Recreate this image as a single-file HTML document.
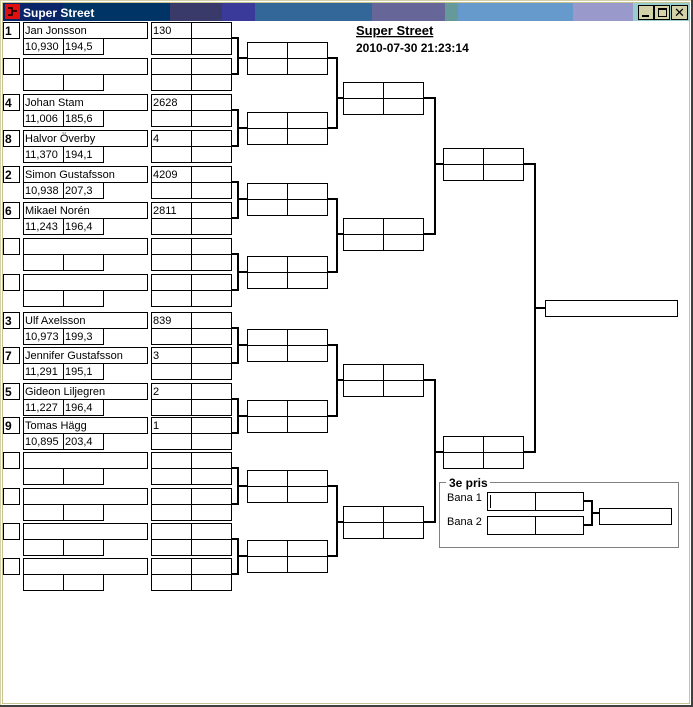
<!DOCTYPE html>
<html><head><meta charset="utf-8"><style>
html,body{margin:0;padding:0;width:693px;height:707px;overflow:hidden;background:#fff}
svg{display:block}
text{font-family:"Liberation Sans","DejaVu Sans",sans-serif;font-size:11px;fill:#000}
.b{font-weight:bold;font-size:12px}
</style></head><body>
<svg id="s" width="693" height="707" viewBox="0 0 693 707" xmlns="http://www.w3.org/2000/svg">
<rect x="0" y="0" width="693" height="707" fill="#fff"/>
<rect x="0.5" y="0.5" width="691" height="705" fill="none" stroke="#d4d0a8"/>
<rect x="2.5" y="2.5" width="687" height="701" fill="none" stroke="#c8c490"/>
<line x1="0" y1="706" x2="693" y2="706" stroke="#404040" stroke-width="2"/>
<line x1="692" y1="0" x2="692" y2="707" stroke="#404040" stroke-width="2"/>
<rect x="3" y="3" width="167" height="18" fill="#003366"/>
<rect x="3" y="3" width="60" height="18" fill="#0a246a"/>
<rect x="170" y="3" width="52" height="18" fill="#3a3a6a"/>
<rect x="222" y="3" width="33" height="18" fill="#3a3a9a"/>
<rect x="255" y="3" width="117" height="18" fill="#336699"/>
<rect x="372" y="3" width="73" height="18" fill="#666699"/>
<rect x="445" y="3" width="13" height="18" fill="#669999"/>
<rect x="458" y="3" width="115" height="18" fill="#6699cc"/>
<rect x="573" y="3" width="60" height="18" fill="#9999cc"/>
<rect x="633" y="3" width="57" height="18" fill="#99cccc"/>
<rect x="5" y="4" width="15" height="15" fill="#e01010"/>
<path d="M8 8h4v7h-4M12 11h5" stroke="#000" fill="none" stroke-width="1.5"/>
<text x="23" y="17" class="b" style="fill:#fff">Super Street</text>
<g stroke="#000" fill="#d4d0a8">
<rect x="638.5" y="5.5" width="15" height="14"/>
<rect x="654.5" y="5.5" width="15" height="14"/>
<rect x="671.5" y="5.5" width="16" height="14"/>
</g>
<rect x="642" y="15" width="7" height="2" fill="#000"/>
<rect x="658.5" y="8.5" width="8" height="8" fill="none" stroke="#000"/>
<rect x="658" y="8" width="9" height="2" fill="#000"/>
<text x="674" y="17" style="font-weight:bold;font-size:13px">✕</text>
<text x="356" y="35" style="font-weight:bold;font-size:13px;text-decoration:underline">Super Street</text>
<text x="356" y="52" class="b">2010-07-30 21:23:14</text>
<g id="shapes" fill="none" stroke="#000"></g>
<g id="lines" fill="none" stroke="#000" stroke-width="2"></g>
<rect x="439.5" y="482.5" width="239" height="65" fill="none" stroke="#808080"/>
<rect x="446" y="476" width="44" height="12" fill="#fff"/>
<text x="449" y="487" class="b">3e pris</text>
<text x="447" y="501">Bana 1</text>
<text x="447" y="525">Bana 2</text>
<line x1="490.5" y1="495" x2="490.5" y2="508" stroke="#000"/>
<g class="b">
<text x="5" y="35" class="b">1</text>
<text x="5" y="107" class="b">4</text>
<text x="5" y="143" class="b">8</text>
<text x="5" y="179" class="b">2</text>
<text x="5" y="215" class="b">6</text>
<text x="5" y="325" class="b">3</text>
<text x="5" y="360" class="b">7</text>
<text x="5" y="396" class="b">5</text>
<text x="5" y="430" class="b">9</text>
</g>
<text x="25" y="34">Jan Jonsson</text><text x="25" y="50">10,930</text><text x="65" y="50">194,5</text><text x="153" y="34">130</text>
<text x="25" y="106">Johan Stam</text><text x="25" y="122">11,006</text><text x="65" y="122">185,6</text><text x="153" y="106">2628</text>
<text x="25" y="142">Halvor Överby</text><text x="25" y="158">11,370</text><text x="65" y="158">194,1</text><text x="153" y="142">4</text>
<text x="25" y="178">Simon Gustafsson</text><text x="25" y="194">10,938</text><text x="65" y="194">207,3</text><text x="153" y="178">4209</text>
<text x="25" y="214">Mikael Norén</text><text x="25" y="230">11,243</text><text x="65" y="230">196,4</text><text x="153" y="214">2811</text>
<text x="25" y="324">Ulf Axelsson</text><text x="25" y="340">10,973</text><text x="65" y="340">199,3</text><text x="153" y="324">839</text>
<text x="25" y="359">Jennifer Gustafsson</text><text x="25" y="375">11,291</text><text x="65" y="375">195,1</text><text x="153" y="359">3</text>
<text x="25" y="395">Gideon Liljegren</text><text x="25" y="411">11,227</text><text x="65" y="411">196,4</text><text x="153" y="395">2</text>
<text x="25" y="429">Tomas Hägg</text><text x="25" y="445">10,895</text><text x="65" y="445">203,4</text><text x="153" y="429">1</text>
</svg>
<script>
var NS="http://www.w3.org/2000/svg",G=document.getElementById("shapes"),L=document.getElementById("lines");
function r(x,y,w,h){var e=document.createElementNS(NS,"rect");e.setAttribute("x",x+.5);e.setAttribute("y",y+.5);e.setAttribute("width",w);e.setAttribute("height",h);G.appendChild(e);}
function p(d){var e=document.createElementNS(NS,"path");e.setAttribute("d",d);L.appendChild(e);}
var E=[22,58,94,130,166,202,238,274,312,347,383,417,452,488,523,558];
E.forEach(function(y){r(3,y,16,16);r(23,y,124,16);r(23,y+16,40,16);r(63,y+16,40,16);r(151,y,40,16);r(191,y,40,16);r(151,y+16,40,16);r(191,y+16,40,16);});
function box(x,y){r(x,y,40,16);r(x+40,y,40,16);r(x,y+16,40,16);r(x+40,y+16,40,16);}
var R2=[42,112,183,256,329,400,470,540];
R2.forEach(function(y,i){box(247,y);var a=E[2*i]+16,b=E[2*i+1]+16;p("M231 "+a+"H238V"+b+"H231M238 "+(y+16)+"H247");});
var R3=[82,218,364,506];
R3.forEach(function(y,i){box(343,y);var a=R2[2*i]+16,b=R2[2*i+1]+16;p("M328 "+a+"H337V"+b+"H328M337 "+(y+16)+"H343");});
var R4=[148,436];
R4.forEach(function(y,i){box(443,y);var a=R3[2*i]+16,b=R3[2*i+1]+16;p("M424 "+a+"H435V"+b+"H424M435 "+(y+16)+"H443");});
p("M524 164H535V452H524M535 308H545");
r(545,300,132,16);
r(487,492,48,18);r(535,492,48,18);r(487,516,48,18);r(535,516,48,18);
p("M584 501H592V525H584M592 513H599");
r(599,508,72,16);
</script>
</body></html>
